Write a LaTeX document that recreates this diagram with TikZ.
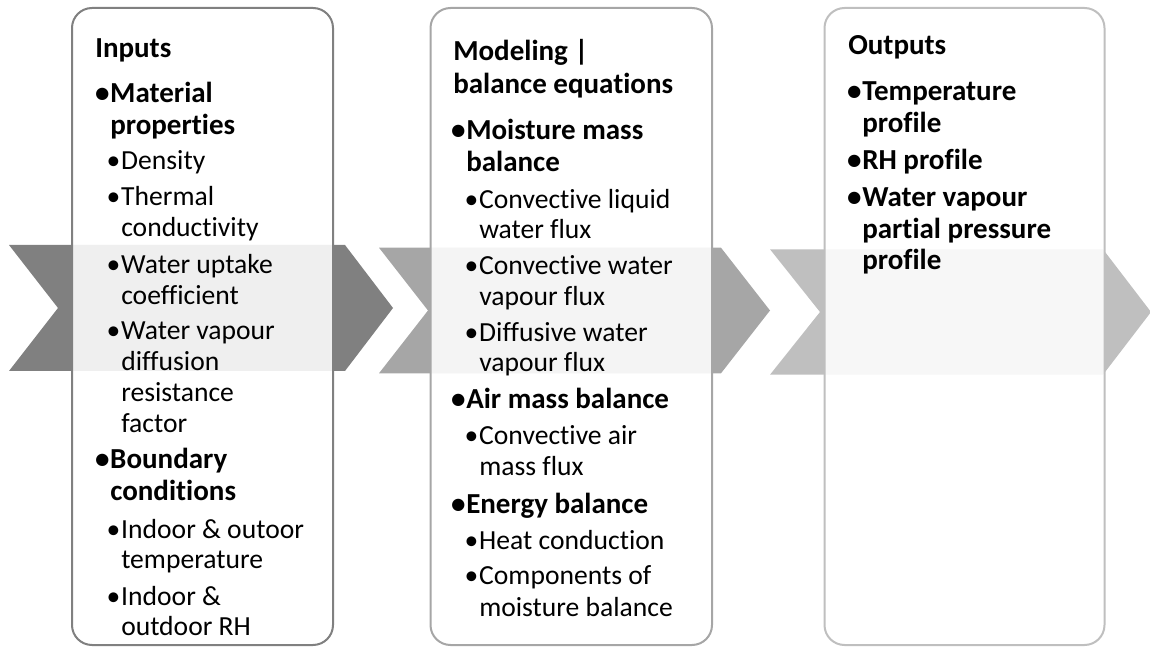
\documentclass[tikz,border=0pt]{standalone}
\usepackage{fontspec}
\setmainfont{Carlito}[Ligatures=NoCommon]
\definecolor{cA}{HTML}{808080}
\definecolor{cB}{HTML}{A6A6A6}
\definecolor{cC}{HTML}{BFBFBF}
\newcommand{\bul}{\llap{•\kern0.6pt}}
\tikzset{
  chevA/.style={fill=cA},
  chevB/.style={fill=cB},
  chevC/.style={fill=cC},
  panel/.style={fill=white, fill opacity=0.88, line width=1.5pt, rounded corners=15pt},
  hd/.style={anchor=base west, inner sep=0pt, font=\fontsize{21.75pt}{26pt}\selectfont\bfseries},
  lone/.style={anchor=base west, inner sep=0pt, font=\fontsize{21.75pt}{26pt}\selectfont\bfseries},
  ltwo/.style={anchor=base west, inner sep=0pt, font=\fontsize{20.7pt}{25pt}\selectfont}
}
\begin{document}
\begin{tikzpicture}[x=0.75pt,y=-0.75pt]
\useasboundingbox (0,0) rectangle (1150,648);
% chevrons
\fill[chevA] (9,245) -- (345,245) -- (393,308) -- (345,371) -- (9,371) -- (58,308) -- cycle;
\fill[chevB] (379,247.7) -- (721,247.7) -- (770,310.5) -- (721,373.3) -- (379,373.3) -- (428,310.5) -- cycle;
\fill[chevC] (770,249.3) -- (1103,249.3) -- (1151,312) -- (1103,374.7) -- (770,374.7) -- (820,312) -- cycle;
% panels
\draw[panel, draw=cA] (72,8) rectangle (333,645);
\draw[panel, draw=cB] (430.5,8) rectangle (712,645);
\draw[panel, draw=cC] (824.5,8) rectangle (1104.5,645);
% box 1
\node[hd] (i0) at (95,57.3) {Inputs};
\node[lone] (i1) at (110,102.3) {\bul Material};
\node[lone] (i2) at (110,135) {properties};
\node[ltwo] (i3) at (121,170) {\bul Density};
\node[ltwo] (i4) at (121,206) {\bul Thermal};
\node[ltwo] (i5) at (121,236.7) {conductivity};
\node[ltwo] (i6) at (121,273.3) {\bul Water uptake};
\node[ltwo] (i7) at (121,305) {coefficient};
\node[ltwo] (i8) at (121,340) {\bul Water vapour};
\node[ltwo] (i9) at (121,370.7) {diffusion};
\node[ltwo] (i10) at (121,401.7) {resistance};
\node[ltwo] (i11) at (121,432.7) {factor};
\node[lone] (i12) at (110,468.3) {\bul Boundary};
\node[lone] (i13) at (110,501) {conditions};
\node[ltwo] (i14) at (121,538.3) {\bul Indoor \& outoor};
\node[ltwo] (i15) at (121,568.3) {temperature};
\node[ltwo] (i16) at (121,605) {\bul Indoor \&};
\node[ltwo] (i17) at (121,635) {outdoor RH};
% box 2
\node[hd] (m0) at (453,60.3) {Modeling |};
\node[hd] (m0b) at (453,94) {balance equations};
\node[lone] (m1) at (466,139.3) {\bul Moisture mass};
\node[lone] (m2) at (466,171.7) {balance};
\node[ltwo] (m3) at (479,208.3) {\bul Convective liquid};
\node[ltwo] (m4) at (479,238.3) {water flux};
\node[ltwo] (m5) at (479,275) {\bul Convective water};
\node[ltwo] (m6) at (479,306) {vapour flux};
\node[ltwo] (m7) at (479,341.7) {\bul Diffusive water};
\node[ltwo] (m8) at (479,371.7) {vapour flux};
\node[lone] (m9) at (466,408.3) {\bul Air mass balance};
\node[ltwo] (m10) at (479,445) {\bul Convective air};
\node[ltwo] (m11) at (479,476) {mass flux};
\node[lone] (m12) at (466,513.3) {\bul Energy balance};
\node[ltwo] (m13) at (479,550) {\bul Heat conduction};
\node[ltwo] (m14) at (479,585) {\bul Components of};
\node[ltwo] (m15) at (479,616) {moisture balance};
% box 3
\node[hd] (o0) at (848,55) {Outputs};
\node[lone] (o1) at (862,101) {\bul Temperature};
\node[lone] (o2) at (862,132.7) {profile};
\node[lone] (o3) at (862,170) {\bul RH profile};
\node[lone] (o4) at (862,206.7) {\bul Water vapour};
\node[lone] (o5) at (862,238.3) {partial pressure};
\node[lone] (o6) at (862,270) {profile};
\end{tikzpicture}
\end{document}
